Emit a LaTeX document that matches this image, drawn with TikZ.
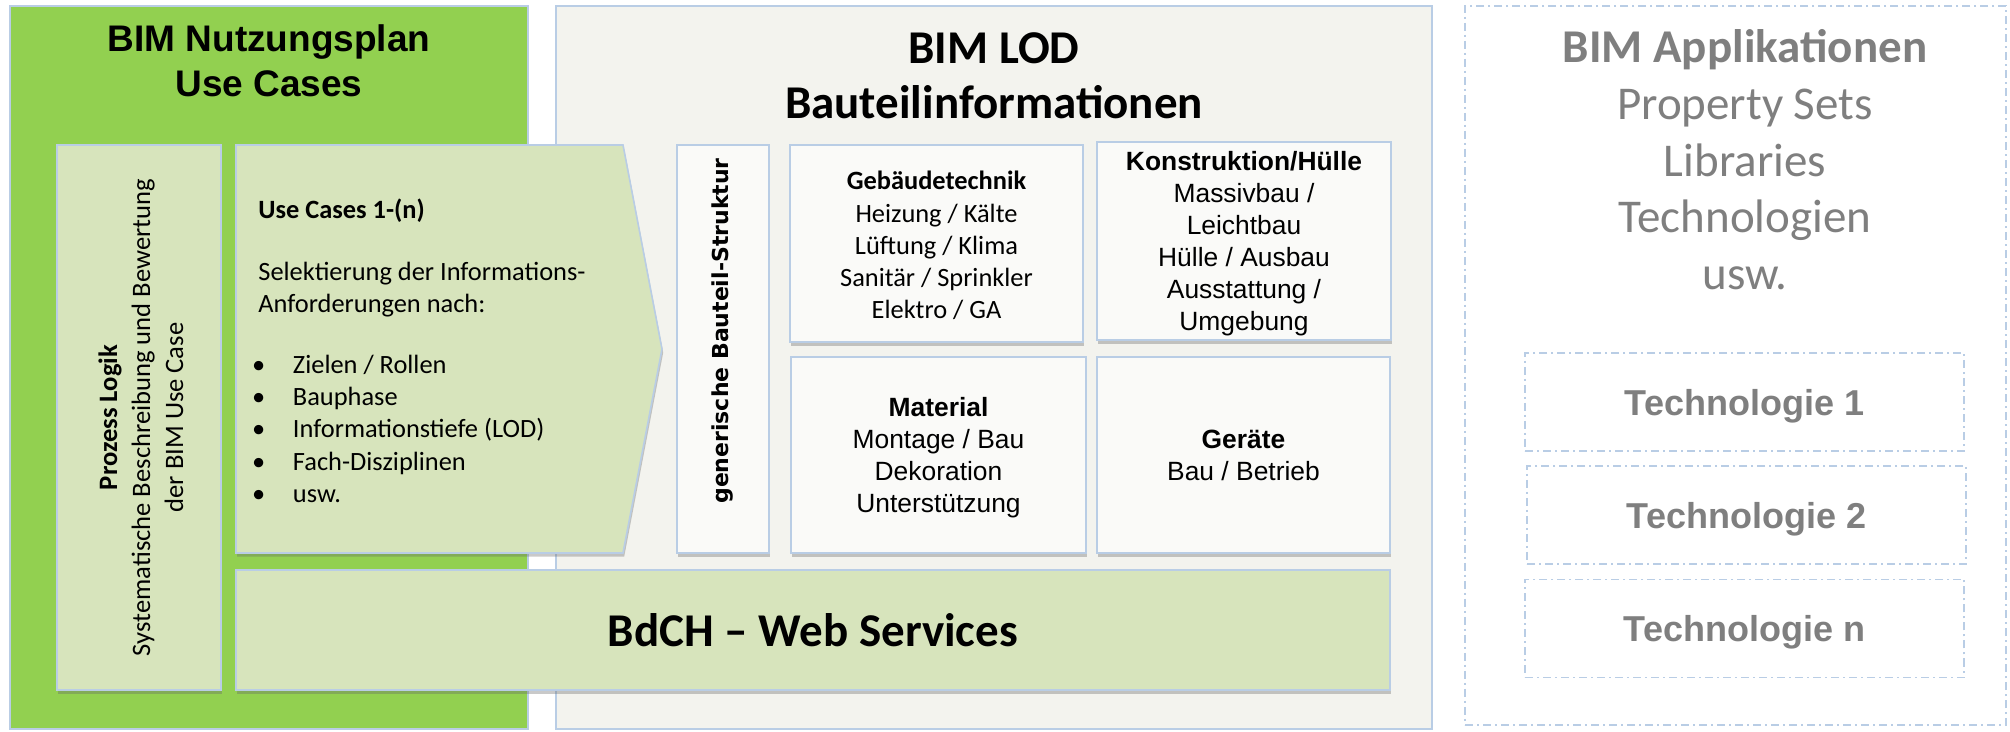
\documentclass[tikz,border=0pt]{standalone}
\usepackage{fontspec}
\setmainfont{Carlito}
\newfontfamily\arialfont{Liberation Sans}
\newfontfamily\verdanafont{DejaVu Sans}
\usepackage{tikz}
\usetikzlibrary{shadows}

\definecolor{plangreen}{HTML}{92D050}
\definecolor{palegreen}{HTML}{D7E4BC}
\definecolor{lodcream}{HTML}{F3F3EE}
\definecolor{frameblue}{HTML}{B9CDE5}
\definecolor{cardwhite}{HTML}{FAFAF8}
\definecolor{appgray}{HTML}{7F7F7F}

\newcommand{\ucbullet}{\makebox[17.3pt][l]{\kern-3.2pt\textbullet}}
\newcommand{\toplift}[1][12.5pt]{\rule{0pt}{#1}}

\begin{document}
\begin{tikzpicture}[x=0.5pt,y=-0.5pt,
    panel/.style={draw=frameblue,line width=0.8pt,inner sep=0pt},
    card/.style={panel,fill=cardwhite,drop shadow={shadow xshift=0.6pt,shadow yshift=-1.8pt,opacity=0.35,fill=black!60}},
    greencard/.style={card,fill=palegreen},
    dashdot/.style={draw=frameblue,line width=0.8pt,dash pattern=on 4pt off 2pt on 1pt off 2pt,inner sep=0pt},
    calsmall/.style={font=\fontsize{13.2}{16.1}\selectfont},
    arialsmall/.style={font=\arialfont\fontsize{13.2}{16}\selectfont},
    techbox/.style={dashdot,minimum width=219.5pt,minimum height=49pt,text depth=0pt,text=appgray,font=\arialfont\bfseries\fontsize{18}{21}\selectfont}]

    \useasboundingbox[fill=white] (0,0) rectangle (2010,732);

    \node[panel,fill=plangreen,minimum width=259pt,minimum height=361.5pt] (plan) at (269,367.5) {};
    \node[panel,fill=lodcream,minimum width=438pt,minimum height=361.5pt] (lod) at (994,367.5) {};
    \node[dashdot,minimum width=270.5pt,minimum height=359.5pt] (apps) at (1735.5,365.5) {};

    \node[anchor=north,inner sep=0pt,align=center,font=\arialfont\bfseries\fontsize{18.5}{22.8}\selectfont] (plantitle) at (269,24) {BIM Nutzungsplan\\Use Cases};
    \node[anchor=north,inner sep=0pt,align=center,font=\bfseries\fontsize{23.5}{27.6}\selectfont] (lodtitle) at (994,32) {BIM LOD\\Bauteilinformationen};
    \node[anchor=north,inner sep=0pt,align=center,text=appgray,font=\fontsize{23.5}{28.4}\selectfont] (apptitle) at (1745,29) {\textbf{BIM Applikationen}\\Property Sets\\Libraries\\Technologien\\usw.};

    \node[greencard,minimum width=82pt,minimum height=272.5pt] (prozess) at (139,417.5) {};
    \node[rotate=90,align=center,font=\fontsize{13.3}{16.5}\selectfont] (prozesstext) at ([xshift=1pt]prozess.center) {\textbf{Prozess Logik}\\Systematische Beschreibung und Bewertung\\der BIM Use Case};

    \draw[greencard] (236,145) -- (623,145) -- (662,349) -- (623,553) -- (236,553) -- cycle;
    \node[calsmall,anchor=north west,inner sep=0pt,align=left] (usecases) at (258,199) {\textbf{Use Cases 1-(n)}\\[14.5pt]
        Selektierung der Informations-\\Anforderungen nach:\\[14.5pt]
        \ucbullet Zielen / Rollen\\\ucbullet Bauphase\\\ucbullet Informationstiefe (LOD)\\\ucbullet Fach-Disziplinen\\\ucbullet usw.};

    \node[card,minimum width=46pt,minimum height=204pt] (struktur) at (723,349) {};
    \node[rotate=90,font=\verdanafont\bfseries\fontsize{11}{13}\selectfont] (strukturtext) at ([yshift=9pt]struktur.center) {generische Bauteil-Struktur};

    \node[card,calsmall,align=center,minimum width=146.5pt,minimum height=98.5pt] (gebaeude) at (936.5,243.5) {\toplift[11.3pt]\textbf{Gebäudetechnik}\\Heizung / Kälte\\Lüftung / Klima\\Sanitär / Sprinkler\\Elektro / GA};
    \node[card,arialsmall,align=center,minimum width=147pt,minimum height=99pt] (konstruktion) at (1244,241) {\toplift\textbf{Konstruktion/Hülle}\\Massivbau /\\Leichtbau\\Hülle / Ausbau\\Ausstattung /\\Umgebung};
    \node[card,arialsmall,align=center,minimum width=147.5pt,minimum height=98pt] (material) at (938.5,455) {\toplift\textbf{Material}\\Montage / Bau\\Dekoration\\Unterstützung};
    \node[card,arialsmall,align=center,minimum width=146.5pt,minimum height=98pt] (geraete) at (1243.5,455) {\textbf{Geräte}\\Bau / Betrieb};

    \node[greencard,minimum width=577pt,minimum height=60pt,font=\bfseries\fontsize{23.5}{26.5}\selectfont] (webservices) at (813,630) {BdCH – Web Services};

    \node[techbox] (tech1) at (1744.5,402) {Technologie 1};
    \node[techbox] (tech2) at (1746.5,515) {Technologie 2};
    \node[techbox] (techn) at (1744.5,628.5) {Technologie n};
\end{tikzpicture}
\end{document}
